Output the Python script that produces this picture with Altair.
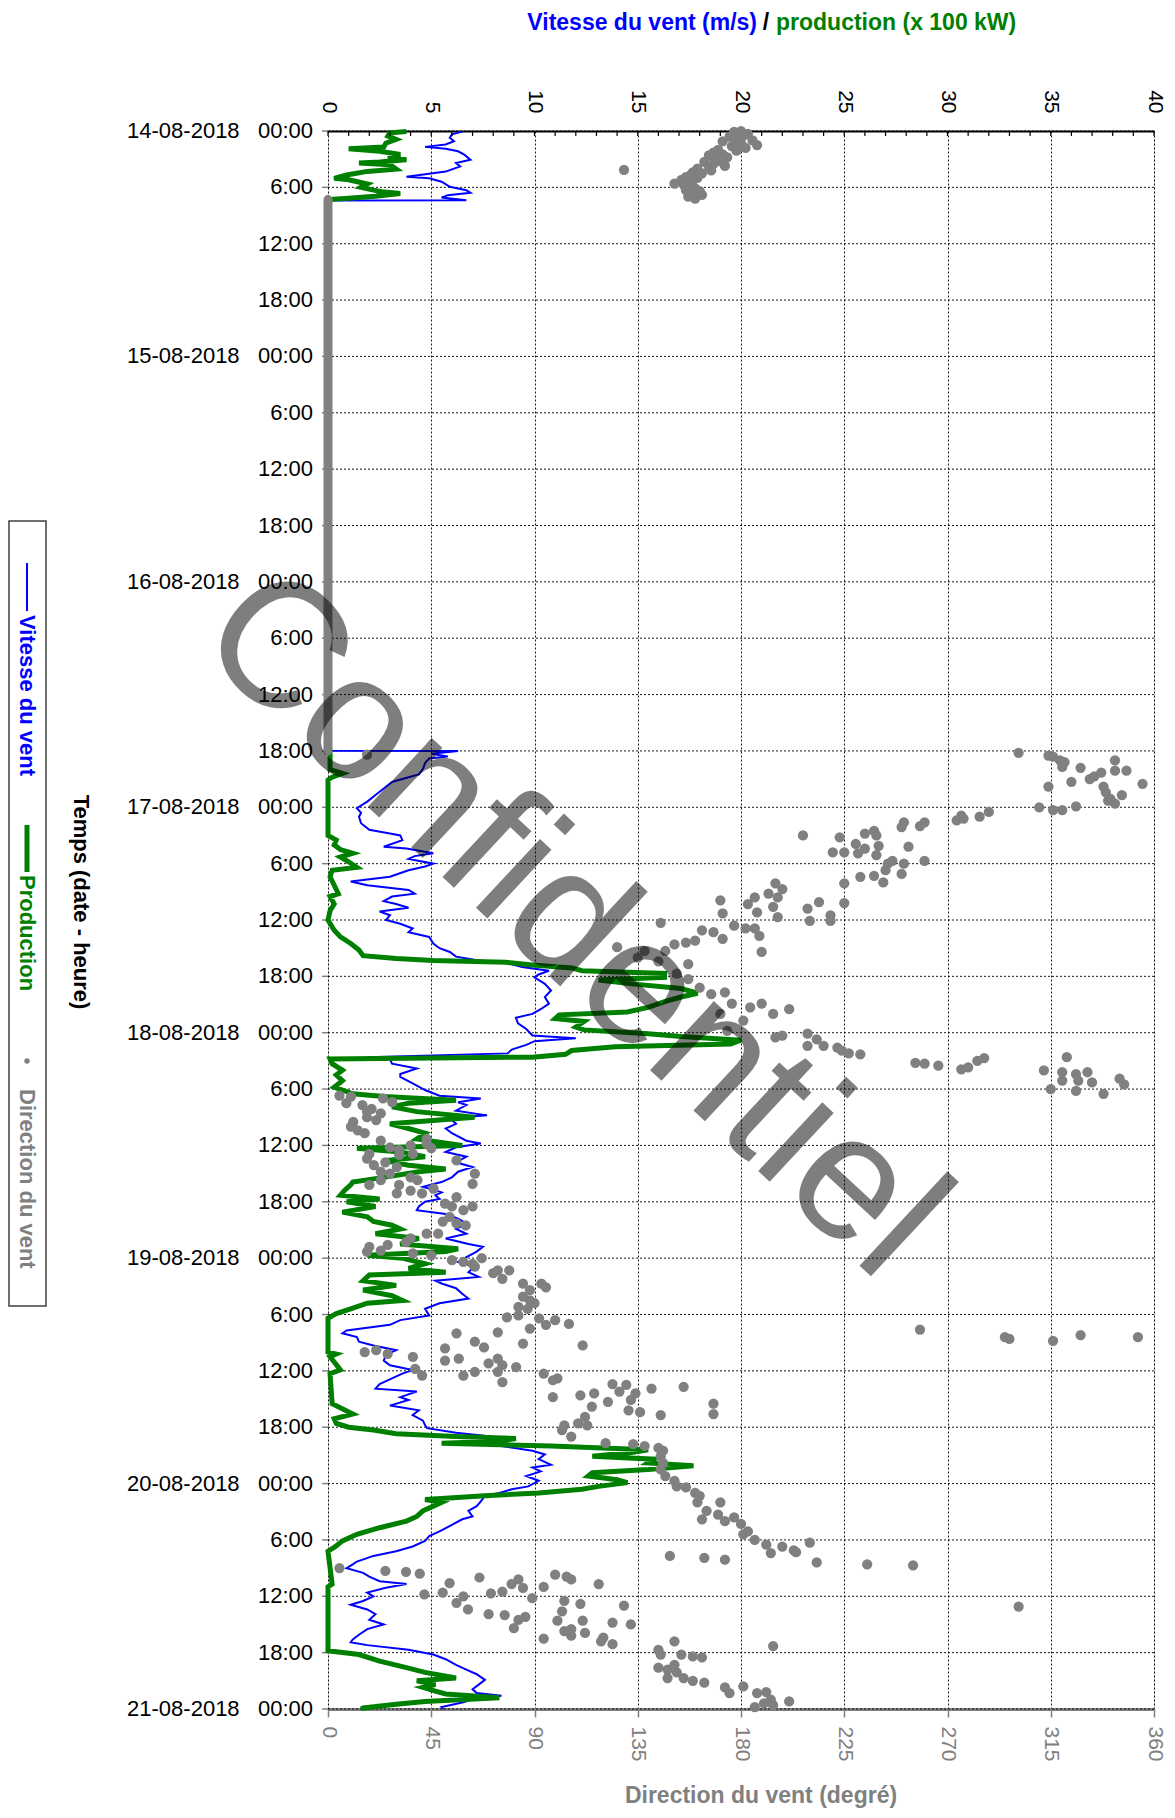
import altair as alt
import pandas as pd

FONT = "Liberation Sans"
BLUE = "#0000ff"
GREEN = "#008000"
GREY = "#808080"

# ---------------- data (time in hours since 14-08-2018 00:00) ----------------
WIND_T = [0.07, 0.36, 0.72, 1.08, 1.44, 1.69, 1.9, 2.16, 2.52, 3.06, 3.42, 3.78, 4.32, 4.86, 5.04,
          5.4, 5.94, 6.3, 6.58, 6.83, 7.09, 7.37, 7.4, 65.98,
          66.0, 66.3, 66.6, 66.8, 67.3, 67.9, 68.5, 68.8, 69.3, 70.0, 70.7, 71.4, 72.1, 72.6, 73.0,
          73.7, 74.4, 74.8, 75.0, 75.5, 76.2, 76.4, 76.9, 77.2, 77.5, 78.0, 78.3, 78.7, 79.4, 79.9,
          80.3, 80.8, 81.2, 81.5, 82.0, 82.3, 82.7, 83.1, 83.5, 84.0, 84.4, 84.9, 85.3, 85.8, 86.5,
          87.0, 87.4, 87.9, 88.3, 88.6, 89.0, 89.4, 89.8, 90.1, 90.8, 91.5, 92.2, 92.9, 93.5, 94.0,
          94.4, 95.0, 95.6, 96.3, 96.6, 96.9, 97.3, 97.8, 98.2, 98.6, 98.8, 99.3, 99.8, 100.4, 100.7,
          101.4, 102.1, 102.7, 103.0, 103.4, 103.7, 104.3, 104.8, 105.1, 105.7, 106.2, 106.7, 107.5,
          107.8, 108.2, 108.7, 109.2, 109.8, 110.3, 110.8, 111.4, 111.9, 112.4, 113.0, 113.3, 113.7,
          114.0, 114.5, 114.9, 115.3, 115.8, 116.3, 116.9, 117.4, 117.9, 118.5, 118.8, 119.3, 119.9,
          120.4, 120.9, 121.5, 122.0, 122.4, 122.7, 123.2, 123.8, 124.3, 124.8, 125.4, 126.1, 126.6,
          127.1, 127.7, 128.0, 128.4, 128.9, 129.3, 129.8, 130.3, 130.9, 131.4, 131.9, 132.3, 132.8,
          133.4, 133.9, 134.2, 134.8, 135.1, 135.7, 136.2, 136.7, 137.3, 137.8, 138.1, 138.6, 139.0,
          139.5, 140.0, 140.5, 140.9, 141.4, 142.0, 142.3, 142.7, 143.2, 143.7, 144.3, 144.6, 145.0,
          145.3, 145.9, 146.4, 146.9, 147.5, 147.8, 148.4, 149.1, 149.6, 150.1, 150.7, 151.2, 151.7,
          152.3, 152.6, 153.0, 153.5, 153.9, 154.4, 154.7, 155.1, 155.6, 156.0, 156.5, 156.9, 157.4,
          157.9, 158.5, 159.0, 159.5, 160.1, 160.6, 160.9, 161.2, 161.7, 162.2, 162.7, 163.3, 163.8,
          164.3, 164.9, 165.4, 165.9, 166.3, 166.6, 167.0, 167.3, 167.8, 168.0]
WIND_V = [6.5, 6.0, 5.9, 6.1, 5.7, 4.7, 5.7, 6.3, 6.6, 6.9, 6.2, 6.4, 5.7, 3.8, 4.9,
          5.5, 5.9, 6.7, 6.9, 5.8, 5.5, 6.7, 0.0, 0.0,
          6.3, 5.0, 5.8, 4.9, 4.7, 4.6, 4.4, 3.9, 3.1, 2.7, 2.3, 1.9, 1.4, 1.6, 1.5,
          1.6, 2.0, 3.0, 3.5, 3.6, 2.7, 3.8, 5.1, 4.2, 3.9, 5.1, 4.7, 3.9, 3.0, 1.1,
          1.9, 3.9, 4.2, 3.1, 2.7, 3.3, 3.9, 2.5, 3.0, 2.8, 3.5, 4.1, 3.9, 4.9, 5.1,
          5.4, 5.9, 6.2, 7.3, 8.7, 9.4, 10.7, 10.2, 10.0, 10.5, 10.8, 10.5, 10.7, 10.3, 9.9,
          9.1, 9.2, 9.6, 9.9, 12.0, 10.0, 9.6, 8.9, 8.7, 1.9, 3.0, 3.1, 4.3, 3.5, 3.5,
          4.1, 4.7, 5.4, 7.4, 6.3, 6.7, 6.2, 7.7, 5.9, 6.2, 5.7, 6.0, 6.7,
          7.4, 6.2, 5.7, 6.7, 6.2, 7.0, 6.3, 6.0, 5.5, 4.6, 5.5, 5.2, 5.4,
          4.7, 4.4, 4.3, 5.7, 6.3, 6.7, 6.2, 6.7, 5.7, 6.8, 7.5, 7.2, 6.7,
          6.3, 7.1, 6.8, 7.3, 5.2, 5.5, 6.2, 6.5, 6.8, 5.4, 4.7, 4.9, 3.5,
          3.0, 0.9, 0.7, 1.4, 1.5, 2.2, 3.3, 2.8, 2.7, 3.0, 4.1, 3.6, 3.1,
          2.5, 2.3, 4.3, 3.5, 3.9, 3.0, 4.4, 4.1, 4.6, 4.7, 4.8, 6.2, 8.0,
          8.6, 8.4, 9.9, 10.5, 10.2, 10.8, 9.9, 10.3, 9.6, 10.2, 9.7, 8.9, 8.3,
          7.6, 7.4, 7.2, 6.8, 7.0, 6.5, 6.0, 5.4, 4.9, 4.7, 4.1, 3.3, 2.2,
          1.4, 1.2, 0.9, 1.7, 2.0, 2.5, 3.8, 2.8, 1.9, 2.2, 1.7, 1.1, 1.9,
          2.3, 2.0, 2.7, 1.9, 1.5, 1.2, 1.1, 1.9, 3.9, 5.1, 5.7, 6.2, 6.7,
          7.2, 7.6, 7.3, 7.0, 7.2, 8.4, 7.0, 6.5, 5.5, 5.6]

PROD_T = [0.05, 0.2, 0.54, 0.9, 1.3, 1.7, 1.9, 2.16, 2.5, 2.8, 3.06, 3.3, 3.4, 3.6, 4.06, 4.3,
          4.68, 5.04, 5.2, 5.65, 6.0, 6.3, 6.47, 6.65, 6.94, 7.15, 7.3, 65.95,
          66.0, 67.0, 68.0, 68.4, 68.8, 69.1, 75.0, 75.5, 76.0, 76.5, 76.9, 77.3, 77.8, 78.4, 78.7,
          79.4, 80.3, 81.2, 81.5, 82.3, 83.0, 84.0, 85.1, 85.8, 86.5, 87.2, 87.8, 88.1, 88.3, 88.5,
          88.8, 89.1, 89.4, 89.7, 90.1, 90.4, 90.8, 91.3, 91.8, 92.2, 92.7, 93.3, 93.8, 94.1, 94.5,
          94.8, 95.4, 95.7, 96.1, 96.4, 96.8, 97.2, 97.5, 97.9, 98.3, 98.6, 98.8, 99.3, 100.0,
          100.5, 101.1, 101.8, 102.5, 102.8, 103.2, 103.5, 103.9, 104.4, 105.0, 105.3, 105.7,
          106.2, 106.7, 107.3, 108.0, 108.3, 108.7, 109.2, 109.6, 110.1, 110.5, 110.8, 111.4,
          111.9, 112.2, 112.8, 113.3, 113.7, 114.0, 114.5, 115.1, 115.6, 116.1, 116.5, 116.9,
          117.4, 117.9, 118.5, 119.0, 119.3, 119.7, 120.0, 120.6, 121.1, 121.5, 121.8, 122.4,
          122.9, 123.4, 124.0, 124.5, 124.8, 125.4, 125.9, 126.4, 130.0, 130.2, 130.5, 131.9,
          132.3, 135.5, 136.6, 137.1, 137.6, 138.0, 138.3, 138.7, 139.0, 139.2, 139.5, 139.7,
          140.0, 140.4, 140.7, 141.1, 141.4, 141.8, 142.1, 142.5, 142.85, 143.2, 143.6, 143.9,
          144.3, 144.6, 145.0, 145.3, 145.7, 146.0, 146.4, 146.9, 147.5, 148.0, 148.7, 149.4,
          150.1, 150.8, 151.2, 154.7, 155.0, 161.8, 162.2, 162.9, 163.6, 164.1, 164.7, 165.0,
          165.4, 165.7, 166.1, 166.4, 166.8, 167.2, 167.5, 167.9, 168.0]
PROD_V = [3.8, 3.0, 2.9, 3.3, 2.8, 2.7, 1.0, 2.5, 3.5, 2.9, 3.8, 2.5, 1.5, 3.0, 3.3, 1.9,
          0.9, 0.3, 1.0, 1.9, 1.6, 2.2, 2.6, 3.5, 2.3, 1.0, 0.0, 0.0,
          0.1, 0.1, 0.1, 0.7, 0.2, 0.0, 0.0, 0.4, 0.3, 0.6, 1.2, 0.6, 1.0, 1.4, 0.2,
          0.1, 0.3, 0.5, 0.1, 0.3, 0.1, 0.0, 0.3, 0.6, 1.1, 1.5, 1.7, 3.3, 5.1, 8.6,
          9.9, 11.8, 12.3, 16.3, 16.3, 13.1, 14.7, 17.1, 17.9, 17.1, 16.3, 15.5, 14.5, 11.2, 11.0,
          12.4, 12.0, 12.4, 15.5, 17.1, 20.0, 19.5, 13.9, 11.8, 11.5, 9.9, 0.1, 0.2, 0.7,
          0.4, 0.7, 0.3, 1.2, 2.7, 6.2, 3.9, 3.1, 4.3, 7.1, 5.4, 3.0,
          3.9, 4.7, 4.3, 6.5, 1.4, 3.5, 4.7, 2.8, 3.9, 5.7, 4.4, 2.7,
          1.2, 1.1, 0.8, 0.6, 2.5, 0.9, 2.3, 0.7, 1.9, 2.2, 3.1, 3.5,
          2.3, 4.4, 3.5, 6.3, 5.7, 1.9, 3.6, 4.7, 3.9, 5.7, 2.0, 1.7,
          3.3, 1.7, 3.1, 3.6, 1.9, 1.1, 0.4, 0.0, 0.0, 0.4, 0.1, 0.6,
          0.1, 0.2, 1.2, 0.3, 0.4, 1.0, 2.2, 3.3, 6.2, 9.1, 8.3, 5.5,
          10.8, 15.5, 14.7, 12.8, 15.8, 15.5, 17.7, 15.5, 12.8, 12.6, 14.0, 14.5,
          13.1, 12.3, 10.2, 7.6, 4.7, 5.5, 5.1, 4.6, 4.3, 3.8, 2.5, 1.4,
          0.7, 0.3, 0.0, 0.2, 0.0, 0.0, 1.5, 2.5, 3.8, 4.7, 6.2, 4.3,
          5.2, 4.6, 5.2, 5.7, 8.3, 4.7, 3.3, 1.7, 1.6]

# wind direction points (time h, degrees)
DIR_T = [
    # 14-08 morning
    0.0, 0.1, 0.3, 0.5, 0.6, 0.8, 1.0, 1.1, 1.3, 1.5, 1.6, 1.8, 2.0, 2.1, 2.3, 2.5, 2.6, 2.8, 3.0,
    3.2, 3.3, 3.5, 3.7, 3.8, 4.0, 4.2, 4.4, 4.5, 4.7, 4.9, 5.0, 5.2, 5.4, 5.6, 5.7, 5.9, 6.1, 6.3,
    6.4, 6.6, 6.8, 7.0, 7.2, 4.15, 66.4,
    # 16-08 evening / 17-08
    66.2, 66.5, 66.6, 67.0, 67.2, 67.7, 67.8, 69.3, 69.8, 69.0, 68.3, 67.0, 68.1, 68.1, 69.5, 68.7,
    69.8, 70.4, 71.1, 71.6, 70.7, 71.3, 72.0, 72.3, 72.3, 71.9, 72.5, 73.0, 73.2, 73.4, 72.9, 73.6,
    74.0, 73.6, 74.1, 74.5, 74.8, 75.0, 75.9, 75.2, 76.8, 76.8, 76.9, 76.4, 77.1, 76.1, 76.2, 77.7,
    77.7, 78.0, 78.7, 79.3, 79.4, 80.0, 79.1, 78.0, 80.1, 82.2, 75.0, 82.1, 82.8, 84.1, 83.5, 84.1,
    80.1, 80.7, 81.2, 81.6, 82.6, 83.7, 81.6, 82.3, 83.2, 81.9, 83.3, 84.6, 84.9, 84.9, 85.7, 87.4,
    85.1, 85.3, 86.0, 86.2, 86.4, 86.6, 84.3, 87.3, 87.3, 88.0, 88.4, 86.9, 88.7, 89.7, 90.3, 91.2,
    91.9, 91.7, 92.9, 94.0, 93.3, 92.9, 94.0, 93.5, 94.7, 95.8, 96.5, 96.3, 96.1, 96.7, 97.4, 97.4,
    97.6, 97.9, 98.2, 98.3, 99.2, 99.3, 99.5, 99.9, 99.7, 99.0, 98.7, 100.0, 98.6, 100.2, 101.1,
    100.4, 101.1, 100.2, 102.0, 102.2, 102.5, 100.9, 101.5, 101.3,
    # 18-08
    102.7, 102.8, 103.5, 103.7, 104.1, 103.0, 103.4, 104.6, 104.4, 105.3, 105.5, 106.0, 106.4,
    106.7, 105.0, 107.5, 108.2, 108.5, 108.0, 107.3, 107.8, 108.3, 108.9, 109.4, 110.1, 109.8,
    110.3, 110.8, 111.0, 111.4, 111.7, 112.2, 112.2, 111.7, 109.6, 111.0, 112.1, 112.6, 113.1,
    112.8, 113.1, 108.9, 109.0, 114.2, 114.5, 113.5, 114.9, 114.5, 115.6, 116.1, 116.3, 116.5,
    117.4, 117.4, 117.9, 119.5, 118.3, 118.6, 119.2, 118.8, 119.3, 119.7, 120.2, 120.4, 120.6,
    120.0, 120.9,
    # 19-08
    121.6, 121.3, 121.3, 122.2, 122.7, 123.4, 124.1, 124.5, 125.2, 125.4, 124.8, 122.7, 123.1,
    126.3, 126.1, 126.4, 127.1, 126.6, 127.0, 127.5, 127.9, 128.0, 128.9, 129.5, 129.1, 129.3,
    129.6, 130.9, 130.7, 131.2, 130.7, 131.4, 131.6, 132.1, 132.1, 132.5, 133.2, 132.3, 133.0,
    132.8, 134.8, 134.6, 134.4, 135.8, 135.3, 133.4, 134.2, 133.5, 135.1, 136.2, 136.4, 134.4,
    133.9, 136.7, 133.7, 135.5, 136.6, 130.0, 129.8, 130.2, 130.5, 131.8, 132.5, 138.3, 137.8,
    139.0, 137.6, 136.9, 137.8, 127.6, 128.4, 128.6, 128.8, 128.2, 128.4,
    # 19-08 evening / 20-08
    139.7, 139.8, 140.0, 140.2, 140.5, 141.1, 141.8, 142.5, 143.2, 143.7, 144.3, 144.4, 145.0,
    145.3, 146.0, 147.8, 146.9, 146.0, 147.3, 148.0, 147.6, 148.3, 149.4, 151.7, 151.9, 152.1,
    149.1, 150.0, 150.5, 151.4, 150.7, 151.1, 151.3, 150.3, 152.4, 152.6, 152.7, 157.1,
    153.0, 153.3, 153.4, 153.6, 155.8, 155.6, 154.6, 156.0, 156.7, 157.4, 154.0, 155.7, 157.9,
    155.5, 158.0, 154.7, 154.2, 155.1, 156.2, 159.4, 158.5, 158.2, 155.0, 160.5, 153.7, 153.9,
    154.2, 156.5, 157.6, 158.6, 156.8, 154.7, 159.7, 159.5, 160.2, 159.9, 158.6, 160.8, 160.4,
    161.1, 158.8, 157.0, 159.0, 161.3,
    # 20-08 evening
    161.7, 162.2, 160.8, 163.6, 163.8, 163.3, 164.7, 164.1, 162.2, 162.4, 162.5, 164.7, 165.0,
    165.2, 165.7, 166.3, 165.6, 166.3, 166.2, 167.0, 167.6, 167.4, 167.2, 167.8,
]
DIR_V = [
    180, 177, 183, 181, 175, 178, 185, 172, 180, 187, 176, 182, 170, 178, 168, 172, 166, 174, 169,
    171, 164, 168, 173, 166, 161, 167, 159, 163, 158, 156, 161, 154, 157, 151, 155, 159, 160, 156,
    162, 158, 163, 157, 160, 129, 17,
    301, 314, 316, 319, 321, 320, 328, 324, 314, 332, 337, 343, 343, 348, 355, 334,
    338, 339, 341, 343, 346, 340, 310, 316, 320, 326, 288, 284, 277, 274, 276, 260,
    258, 251, 250, 238, 234, 239, 230, 223, 220, 225, 231, 234, 239, 240, 253, 260,
    246, 244, 243, 238, 232, 242, 250, 251, 225, 225, 207, 214, 209, 210, 219, 219,
    195, 198, 192, 196, 194, 196, 186, 183, 187, 171, 172, 177, 182, 186, 188, 189,
    163, 168, 172, 160, 156, 151, 145, 147, 138, 135, 144, 126, 157, 152, 157, 162,
    167, 173, 176, 171, 184, 189, 194, 201, 181, 174, 195, 198, 209, 213, 209, 216,
    222, 224, 227, 232, 256, 260, 266, 276, 279, 283, 286, 312, 322, 320, 320,
    326, 327, 331, 315, 326, 338, 345, 347, 333,
    5, 10, 8, 15, 19, 24, 28, 23, 17, 21, 11, 10, 13,
    16, 17, 23, 27, 31, 36, 43, 43, 45, 18, 17, 20, 25,
    30, 23, 27, 36, 39, 31, 18, 23, 56, 64, 63, 46, 41,
    36, 30, 37, 31, 51, 54, 56, 59, 63, 53, 50, 56, 60,
    48, 43, 36, 37, 34, 26, 23, 18, 17, 45, 54, 59, 63,
    67, 64,
    72, 74, 79, 76, 85, 88, 85, 88, 83, 87, 90, 93, 95,
    78, 83, 92, 95, 99, 105, 88, 74, 56, 64, 68, 85, 111,
    51, 51, 57, 70, 74, 76, 82, 74, 64, 59, 76, 94, 98,
    100, 98, 110, 116, 115, 122, 124, 127, 130, 132, 131, 136, 134,
    141, 145, 155, 168, 168, 16, 21, 26, 37, 38, 41, 102, 103,
    106, 109, 112, 113, 258, 295, 297, 316, 328, 353,
    121, 133, 138, 144, 146, 145, 146, 145, 147, 151, 152, 156, 160,
    162, 161, 163, 165, 171, 170, 173, 177, 180, 181, 149, 164, 173,
    183, 186, 191, 193, 198, 203, 204, 210, 213, 235, 255, 301,
    5, 25, 34, 40, 42, 50, 53, 59, 56, 61, 66, 71, 70,
    76, 77, 80, 83, 85, 89, 81, 83, 86, 94, 94, 99, 104,
    106, 103, 102, 100, 110, 118, 103, 106, 106, 112, 111, 119, 120,
    124, 124, 129, 132, 194,
    144, 145, 151, 144, 148, 151, 148, 152, 154, 159, 163, 155, 159,
    164, 173, 175, 181, 187, 191, 193, 194, 190, 201, 186,
]

GAP_START = [7.3]     # direction recorded as 0 while data was missing
GAP_END = [66.0]
SPEED_MINOR = list(range(0, 41))
SPEED_MAJOR = list(range(0, 41, 5))
DIR_TICKS = list(range(0, 361, 45))

SP = "\u00a0\u00a0\u00a0"
TIME_TICKS = list(range(0, 169, 6))
TIME_LABELS = [
    "14-08-2018" + SP + "00:00", "6:00", "12:00", "18:00",
    "15-08-2018" + SP + "00:00", "6:00", "12:00", "18:00",
    "16-08-2018" + SP + "00:00", "6:00", "12:00", "18:00",
    "17-08-2018" + SP + "00:00", "6:00", "12:00", "18:00",
    "18-08-2018" + SP + "00:00", "6:00", "12:00", "18:00",
    "19-08-2018" + SP + "00:00", "6:00", "12:00", "18:00",
    "20-08-2018" + SP + "00:00", "6:00", "12:00", "18:00",
    "21-08-2018" + SP + "00:00",
]

# ---------------- chart ----------------
W, H = 826, 1578
speed_scale = alt.Scale(domain=[0, 40], nice=False, zero=False)
dir_scale = alt.Scale(domain=[0, 360], nice=False, zero=False)
time_scale = alt.Scale(domain=[0, 168], nice=False, zero=False, reverse=True)

speed_axis = alt.Axis(orient="top", values=SPEED_MAJOR, title="", labelAngle=90,
                      labelAlign="right", labelBaseline="middle", labelFontSize=21,
                      labelColor="black", labelFont=FONT, ticks=False, tickSize=0,
                      labelPadding=18, domainColor="black", domainWidth=2, grid=True,
                      gridColor="black", gridDash=[2, 2], gridWidth=1, gridOpacity=0.9,
                      labelFlush=False, labelOverlap=False)
dir_axis = alt.Axis(orient="bottom", values=DIR_TICKS, title="", labelAngle=90,
                    labelAlign="left", labelBaseline="middle", labelFontSize=21,
                    labelColor=GREY, labelFont=FONT, tickColor=GREY, tickSize=8, tickWidth=1.5,
                    labelPadding=9, domainColor=GREY, domainWidth=3, grid=False,
                    labelFlush=False, labelOverlap=False)

wind = pd.DataFrame({"t": WIND_T, "v": WIND_V})
prod = pd.DataFrame({"t": PROD_T, "v": PROD_V})
direc = pd.DataFrame({"t": DIR_T, "d": DIR_V})
gap = pd.DataFrame({"t": GAP_START, "t2": GAP_END, "d": [0] * len(GAP_START)})
minor = pd.DataFrame({"s": SPEED_MINOR})
tlab = pd.DataFrame({"t": TIME_TICKS, "label": TIME_LABELS})
one = pd.DataFrame({"k": [0]})

Yt = alt.Y("t:Q", scale=time_scale, axis=None)

# time axis drawn by hand: dotted grid, ticks, labels
h_grid = alt.Chart(tlab).mark_rule(color="black", strokeWidth=1, strokeDash=[2, 2],
                                   opacity=0.9).encode(
    x=alt.value(0), x2=alt.value(W), y=Yt)
t_ticks = alt.Chart(tlab).mark_rule(color=GREY, strokeWidth=1.5).encode(
    x=alt.value(-6), x2=alt.value(0), y=Yt)
t_labels = alt.Chart(tlab).mark_text(align="right", baseline="middle", fontSize=22,
                                     font=FONT, color="black").encode(
    x=alt.value(-15), y=Yt, text="label:N")

wind_line = alt.Chart(wind).mark_line(color=BLUE, strokeWidth=2).encode(
    x=alt.X("v:Q", scale=speed_scale, axis=speed_axis),
    y=Yt,
    order=alt.Order("t:Q"),
)
prod_line = alt.Chart(prod).mark_line(color=GREEN, strokeWidth=5).encode(
    x=alt.X("v:Q", scale=speed_scale, axis=None),
    y=Yt,
    order=alt.Order("t:Q"),
)
minor_ticks = alt.Chart(minor).mark_rule(color="black", strokeWidth=1.2).encode(
    x=alt.X("s:Q", scale=speed_scale, axis=None),
    y=alt.value(0), y2=alt.value(5),
)
gap_bar = alt.Chart(gap).mark_rule(color=GREY, strokeWidth=9, strokeCap="round").encode(
    x=alt.X("d:Q", scale=dir_scale, axis=None),
    y=Yt,
    y2=alt.Y2("t2:Q"),
)
dir_points = alt.Chart(direc).mark_circle(color=GREY, size=105, opacity=1).encode(
    x=alt.X("d:Q", scale=dir_scale, axis=dir_axis),
    y=Yt,
)


def txt(text, x, y, color="black", size=22, angle=0, align="center", baseline="middle",
        weight="bold", opacity=1.0):
    return alt.Chart(one).mark_text(
        text=text, color=color, fontSize=size, angle=angle, align=align, baseline=baseline,
        font=FONT, fontWeight=weight, opacity=opacity,
    ).encode(x=alt.value(x), y=alt.value(y))


# titles
t_blue = txt("Vitesse du vent (m/s)", 429, -108, BLUE, size=23, align="right")
t_slash = txt("/", 438, -108, "black", size=23)
t_green = txt("production (x 100 kW)", 448, -108, GREEN, size=23, align="left")
t_bottom = txt("Direction du vent (degré)", 433, 1665, GREY, size=23)
t_left = txt("Temps (date - heure)", -247, 771, "black", size=22, angle=90)

# legend (rotated like the chart)
leg_box = alt.Chart(one).mark_rect(fillOpacity=0, stroke="#404040", strokeWidth=1.5).encode(
    x=alt.value(-319), x2=alt.value(-282), y=alt.value(390), y2=alt.value(1175))
leg_blue = alt.Chart(one).mark_rule(color=BLUE, strokeWidth=2).encode(
    x=alt.value(-301), y=alt.value(432), y2=alt.value(480))
leg_green = alt.Chart(one).mark_rule(color=GREEN, strokeWidth=5).encode(
    x=alt.value(-301), y=alt.value(694), y2=alt.value(741))
leg_dot = alt.Chart(one).mark_circle(color=GREY, size=30, opacity=1).encode(
    x=alt.value(-301), y=alt.value(930))
leg_t1 = txt("Vitesse du vent", -301, 484, BLUE, angle=90, align="left")
leg_t2 = txt("Production", -301, 744, GREEN, angle=90, align="left")
leg_t3 = txt("Direction du vent", -301, 958, GREY, angle=90, align="left")

watermark = txt("Confidentiel", 208, 833, "black", size=178, angle=43, align="center",
                baseline="alphabetic", weight="normal", opacity=0.5)

chart = alt.layer(
    h_grid, t_ticks, t_labels,
    wind_line, prod_line, minor_ticks, gap_bar, dir_points,
    t_blue, t_slash, t_green, t_bottom, t_left,
    leg_box, leg_blue, leg_green, leg_dot, leg_t1, leg_t2, leg_t3,
    watermark,
).resolve_scale(x="independent").properties(
    width=W, height=H,
    autosize=alt.AutoSizeParams(type="none"),
    padding={"left": 320, "top": 123, "right": 13, "bottom": 101},
).configure_view(stroke=GREY, strokeWidth=2).configure(background="white")

chart.save("out.html", embed_options={"renderer": "svg", "actions": False})
